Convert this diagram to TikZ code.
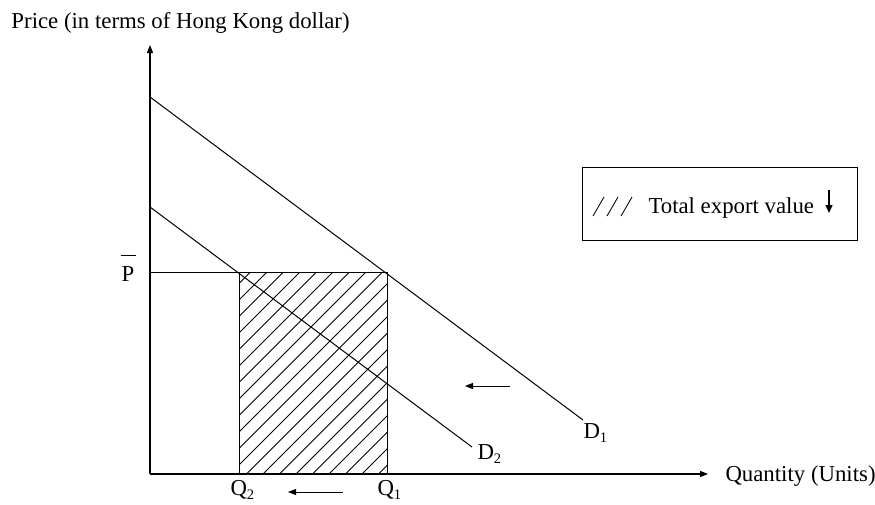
\documentclass[tikz,border=0pt]{standalone}
\usepackage{fontspec}
\setmainfont{Liberation Serif}
\usetikzlibrary{arrows.meta}
\newcommand\sbs[1]{\raisebox{-0.2em}{\fontsize{14.5}{14.5}\selectfont #1}}
\begin{document}
\begin{tikzpicture}[x=1pt,y=-1pt,line width=1pt,
  lbl/.style={inner sep=0pt,anchor=base west,font=\fontsize{22.8}{27}\selectfont},
  axisline/.style={line width=1.2pt,-{Triangle[length=8pt,width=6pt]}},
  shiftarrow/.style={line width=1pt,-{Triangle[length=8pt,width=6pt]}},
  demand/.style={line width=1pt},
  hatchline/.style={line width=0.85pt}]
\useasboundingbox (0,0) rectangle (875,504);
% coordinates
\coordinate (O) at (150,474);
\coordinate (Ytop) at (150,45);
\coordinate (Xend) at (708,474);
\coordinate (D1s) at (150,97);
\coordinate (D1e) at (583,420);
\coordinate (D2s) at (150,207);
\coordinate (D2e) at (472,447);
\coordinate (Pl) at (150,272);
\coordinate (A) at (239,272);
\coordinate (B) at (387,272);
\coordinate (Q2b) at (239,474);
\coordinate (Q1b) at (387,474);
% hatching
\begin{scope}
  \clip (A) rectangle (Q1b);
  \foreach \i in {0,...,22} \draw[hatchline] ({30+\i*16.5},476) -- ++(214,-214);
\end{scope}
% rectangle and price line
\draw (Pl) -- (B);
\draw (A) -- (Q2b);
\draw (B) -- (Q1b);
% demand curves
\draw[demand] (D1s) -- (D1e);
\draw[demand] (D2s) -- (D2e);
% axes
\draw[axisline] (O) -- (Ytop);
\draw[axisline] (O) -- (Xend);
% labels
\node[lbl] (title) at (11,28) {Price (in terms of Hong Kong dollar)};
\node[lbl] (xlab) at (725,481) {Quantity (Units)};
\node[lbl] (pbar) at (121,281) {\makebox[0pt][l]{\hspace{-1pt}\raisebox{1.08em}{\rule{15pt}{0.9pt}}}P};
\node[lbl] (d1) at (583,438) {D\sbs{1}};
\node[lbl] (d2) at (477,459) {D\sbs{2}};
\node[lbl] (q2) at (230,495) {Q\sbs{2}};
\node[lbl] (q1) at (377,495) {Q\sbs{1}};
% shift arrows
\coordinate (s1a) at (510,386);
\coordinate (s1b) at (465,386);
\coordinate (s2a) at (343,492);
\coordinate (s2b) at (288,492);
\draw[shiftarrow] (s1a) -- (s1b);
\draw[shiftarrow] (s2a) -- (s2b);
% legend
\node[draw,line width=1pt,minimum width=275pt,minimum height=73pt,inner sep=0pt] (leg) at (719.5,203.5) {};
\foreach \k in {0,1,2} \draw[hatchline] ({593+\k*14},216) -- ++(11,-19);
\node[lbl] (legtext) at (648,213) {Total export value};
\coordinate (da) at (829,190);
\coordinate (db) at (829,213);
\draw[line width=1.3pt,-{Triangle[length=8pt,width=7pt]}] (da) -- (db);
\end{tikzpicture}
\end{document}
